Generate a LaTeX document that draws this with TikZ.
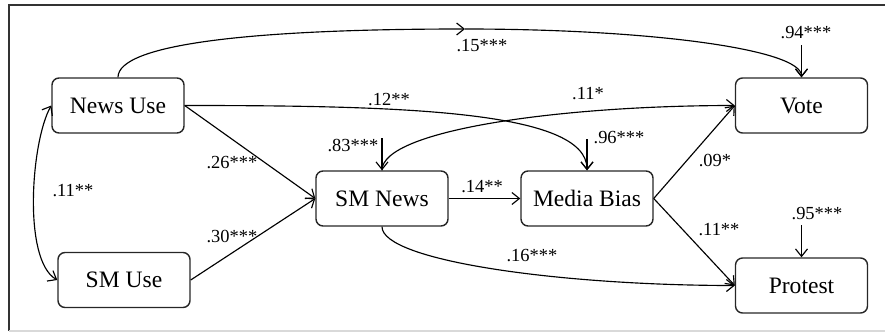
\documentclass[tikz,border=0pt]{standalone}
\usepackage{fontspec}
\setmainfont{Liberation Serif}
\usepackage{tikz}
\usetikzlibrary{arrows.meta,positioning}
\tikzset{
  >={Straight Barb[length=1.5mm,width=2.4mm]},
  pframe/.style={black!80, line width=0.8pt},
  pbox/.style={rectangle, rounded corners=4pt, draw=black!85, line width=0.8pt,
               minimum width=2.64cm, minimum height=1.1cm, inner sep=2pt,
               font=\fontsize{13.4}{16}\selectfont},
  ppath/.style={->, black, line width=0.65pt},
  plbl/.style={font=\fontsize{10.5}{12}\selectfont, inner sep=1pt},
}

\begin{document}
\begin{tikzpicture}[x=1cm,y=1cm]

  \useasboundingbox (0,0) rectangle (17.7,6.66);
  \draw[pframe] (17.7,6.56) -- (0.18,6.56) -- (0.18,0.04);
  \draw[black!15, line width=0.6pt] (0.18,0.04) -- (17.7,0.04);

  \node[pbox] (nu)   at (2.36,4.55)  {News Use};
  \node[pbox] (smu)  at (2.48,1.06)  {SM Use};
  \node[pbox] (smn)  at (7.64,2.69)  {SM News};
  \node[pbox] (mb)   at (11.74,2.69) {Media Bias};
  \node[pbox] (vote) at (16.03,4.55) {Vote};
  \node[pbox] (prot) at (16.03,0.95) {Protest};

  \coordinate (m1)  at (9.3,6.08);
  \coordinate (e83) at (7.64,3.9);
  \coordinate (e96) at (11.74,3.88);
  \coordinate (e94) at (16.03,5.76);
  \coordinate (e95) at (16.03,2.16);

  % paths
  \draw[ppath] (nu.north) .. controls +(0,0.66) and +(-4.3,0) .. (m1);
  \draw[ppath] (m1) .. controls +(3.7,0) and +(0,0.56) .. (vote.north);
  \draw[ppath] (nu.east) .. controls +(4.3,0) and +(0,1.2) .. (mb.north);
  \draw[ppath] (nu.east) -- (smn.west);
  \draw[ppath] (smu.east) -- (smn.west);
  \draw[ppath] (smn.north) .. controls +(0,0.8) and +(-3.5,0) .. (vote.west);
  \draw[ppath] (smn.east) -- (mb.west);
  \draw[ppath] (smn.south) .. controls +(0,-0.68) and +(-3.5,0) .. (prot.west);
  \draw[ppath] (mb.east) -- (vote.west);
  \draw[ppath] (mb.east) -- (prot.west);
  \draw[ppath, <->] (nu.west) .. controls +(-0.4,-0.7) and +(-0.7,0.4) .. (smu.west);

  % residuals
  \draw[ppath] (e83) -- (smn.north);
  \draw[ppath] (e96) -- (mb.north);
  \draw[ppath] (e94) -- (vote.north);
  \draw[ppath] (e95) -- (prot.north);

  \node[plbl] (l15) at (9.64,5.74)  {.15***};
  \node[plbl] (l12) at (7.78,4.66)  {.12**};
  \node[plbl] (l26) at (4.64,3.4)   {.26***};
  \node[plbl] (l30) at (4.64,1.94)  {.30***};
  \node[plbl] (l11a) at (1.46,2.84) {.11**};
  \node[plbl] (l83) at (7.06,3.76)  {.83***};
  \node[plbl] (l11b) at (11.76,4.78) {.11*};
  \node[plbl] (l96) at (12.38,3.9)  {.96***};
  \node[plbl] (l14) at (9.64,2.92)  {.14**};
  \node[plbl] (l09) at (14.3,3.46)  {.09*};
  \node[plbl] (l11c) at (14.38,2.06) {.11**};
  \node[plbl] (l16) at (10.64,1.54) {.16***};
  \node[plbl] (l94) at (16.12,6.0)  {.94***};
  \node[plbl] (l95) at (16.34,2.38) {.95***};

\end{tikzpicture}
\end{document}
